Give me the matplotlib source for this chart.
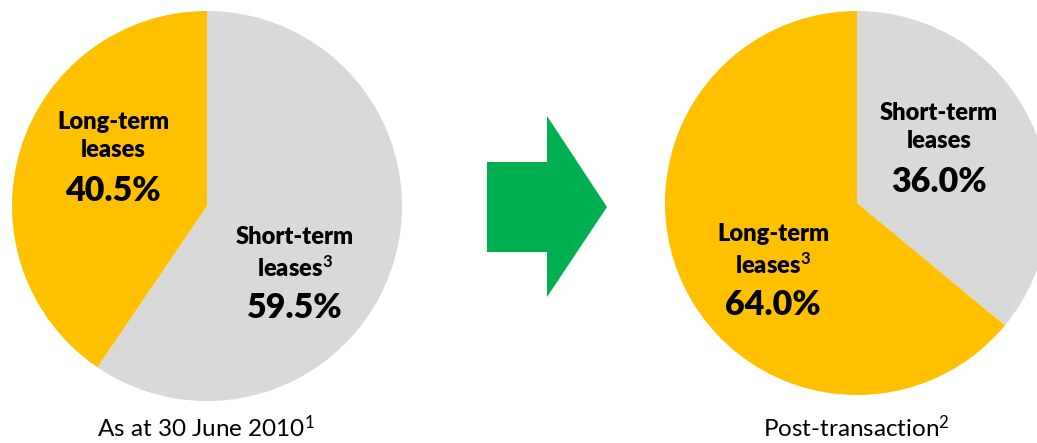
import matplotlib
matplotlib.use('Agg')
import matplotlib.pyplot as plt
from matplotlib.patches import Polygon

# Lease mix before and after the transaction
before_labels = ['Short-term\nleases$^{\\mathbf{3}}$', 'Long-term\nleases']
before_values = [59.5, 40.5]
after_labels = ['Short-term\nleases', 'Long-term\nleases$^{\\mathbf{3}}$']
after_values = [36.0, 64.0]
captions = ['As at 30 June 2010$^{1}$', 'Post-transaction$^{2}$']

GOLD = '#FFC000'
GREY = '#D9D9D9'
GREEN = '#00B050'

plt.rcParams['font.family'] = ['Lato', 'DejaVu Sans']
plt.rcParams['mathtext.fontset'] = 'custom'
plt.rcParams['mathtext.rm'] = 'Lato'
plt.rcParams['mathtext.bf'] = 'Lato:bold'
plt.rcParams['mathtext.default'] = 'rm'

W, H = 1037, 443
fig = plt.figure(figsize=(W / 100, H / 100), dpi=100)
ax = fig.add_axes([0, 0, 1, 1])
ax.set_xlim(0, W)
ax.set_ylim(0, H)
ax.set_aspect('equal')
ax.axis('off')

# left pie
ax.pie(before_values, colors=[GREY, GOLD], startangle=90, counterclock=False,
       center=(207, H - 206), radius=195, wedgeprops=dict(linewidth=0))
# right pie
ax.pie(after_values, colors=[GREY, GOLD], startangle=90, counterclock=False,
       center=(857, H - 203), radius=192, wedgeprops=dict(linewidth=0))
ax.set_xlim(0, W)
ax.set_ylim(0, H)


def label(x, y, name, value):
    ax.text(x, H - y, name, ha='center', va='center', fontsize=17,
            fontweight='heavy', linespacing=1.3, color='black')
    ax.text(x, H - y - 55, f'{value:.1f}%', ha='center', va='center',
            fontsize=24.5, fontweight='heavy', color='black')


label(113, 136, before_labels[1], before_values[1])
label(295, 253, before_labels[0], before_values[0])
label(939, 127, after_labels[0], after_values[0])
label(773, 250, after_labels[1], after_values[1])

# arrow between the pies
arrow = Polygon([(487, H - 162), (547, H - 162), (547, H - 116), (607, H - 207),
                 (547, H - 297), (547, H - 252), (487, H - 252)],
                closed=True, facecolor=GREEN, edgecolor='none')
ax.add_patch(arrow)

ax.text(206, H - 428, captions[0], ha='center', va='center', fontsize=17.5)
ax.text(856, H - 428, captions[1], ha='center', va='center', fontsize=17.5)

fig.savefig('out.png', dpi=100)
